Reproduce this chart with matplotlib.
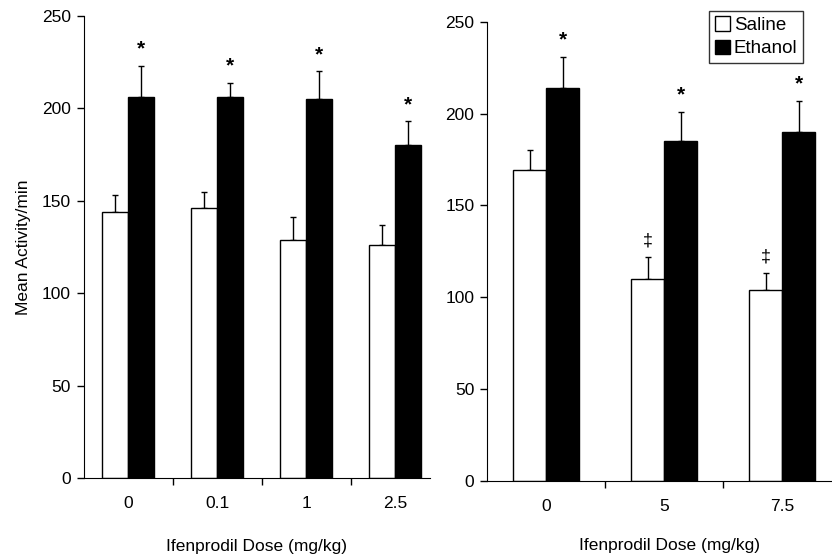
import matplotlib
matplotlib.use("Agg")
import matplotlib.pyplot as plt
import numpy as np

plt.rcParams['font.family'] = ['Liberation Sans', 'DejaVu Sans']

# left panel: ifenprodil 0 - 2.5 mg/kg
doses_a = ["0", "0.1", "1", "2.5"]
saline_a = [144, 146, 129, 126]
saline_err_a = [9, 9, 12, 11]
ethanol_a = [206, 206, 205, 180]
ethanol_err_a = [17, 8, 15, 13]

# right panel: ifenprodil 0 - 7.5 mg/kg
doses_b = ["0", "5", "7.5"]
saline_b = [169, 110, 104]
saline_err_b = [11, 12, 9]
ethanol_b = [214, 185, 190]
ethanol_err_b = [17, 16, 17]
dagger_b = [False, True, True]

fs = 12.5

fig = plt.figure(figsize=(8.32, 5.58), dpi=100)
ax1 = fig.add_axes([0.1004, 0.1434, 0.4164, 0.8279])
ax2 = fig.add_axes([0.5853, 0.1385, 0.4147, 0.8226])


def draw_panel(ax, doses, sal, sal_err, eth, eth_err, xmax, w, daggers=None):
    x = np.arange(len(doses))
    ax.bar(x - w / 2, sal, w, color='white', edgecolor='black', linewidth=1,
           label='Saline', zorder=2)
    ax.bar(x + w / 2, eth, w, color='black', edgecolor='black', linewidth=1,
           label='Ethanol', zorder=2)
    ax.errorbar(x - w / 2, sal, yerr=[np.zeros(len(sal)), sal_err], fmt='none',
                ecolor='black', elinewidth=1, capsize=2.5, capthick=1, zorder=1)
    ax.errorbar(x + w / 2, eth, yerr=[np.zeros(len(eth)), eth_err], fmt='none',
                ecolor='black', elinewidth=1, capsize=2.5, capthick=1, zorder=1)
    # significance marks
    for i in range(len(doses)):
        ax.text(x[i] + w / 2, eth[i] + eth_err[i] + 4, "*", ha='center',
                va='bottom', fontsize=15, fontweight='bold')
        if daggers is not None and daggers[i]:
            ax.text(x[i] - w / 2, sal[i] + sal_err[i] + 4, "\u2021", ha='center',
                    va='bottom', fontsize=13)
    ax.set_xlim(-0.5, xmax)
    ax.set_ylim(0, 250)
    ax.set_yticks(np.arange(0, 251, 50))
    ax.set_xticks(x)
    ax.set_xticklabels(doses)
    ax.set_xticks(np.arange(0.5, len(doses) - 0.5, 1), minor=True)
    ax.tick_params(axis='x', which='major', length=0, pad=13, labelsize=fs)
    ax.tick_params(axis='x', which='minor', length=5, width=1, direction='out')
    ax.tick_params(axis='y', length=5, width=1, direction='out', pad=4,
                   labelsize=fs)
    ax.spines['top'].set_visible(False)
    ax.spines['right'].set_visible(False)
    ax.set_xlabel("Ifenprodil Dose (mg/kg)", fontsize=fs, labelpad=20)


draw_panel(ax1, doses_a, saline_a, saline_err_a, ethanol_a, ethanol_err_a, 3.39, 0.29)
draw_panel(ax2, doses_b, saline_b, saline_err_b, ethanol_b, ethanol_err_b, 2.42, 0.28,
           daggers=dagger_b)
ax1.set_ylabel("Mean Activity/min", fontsize=fs, labelpad=8)
ax2.xaxis.set_label_coords(0.53, -0.125)

leg = ax2.legend(loc='upper right', bbox_to_anchor=(0.916, 1.024), fontsize=13.5,
                 frameon=True, fancybox=False, edgecolor='black',
                 handlelength=0.8, handleheight=0.8, handletextpad=0.2,
                 borderpad=0.3, labelspacing=0.3, borderaxespad=0)
leg.get_frame().set_linewidth(1)

fig.savefig("out.png", dpi=100)
